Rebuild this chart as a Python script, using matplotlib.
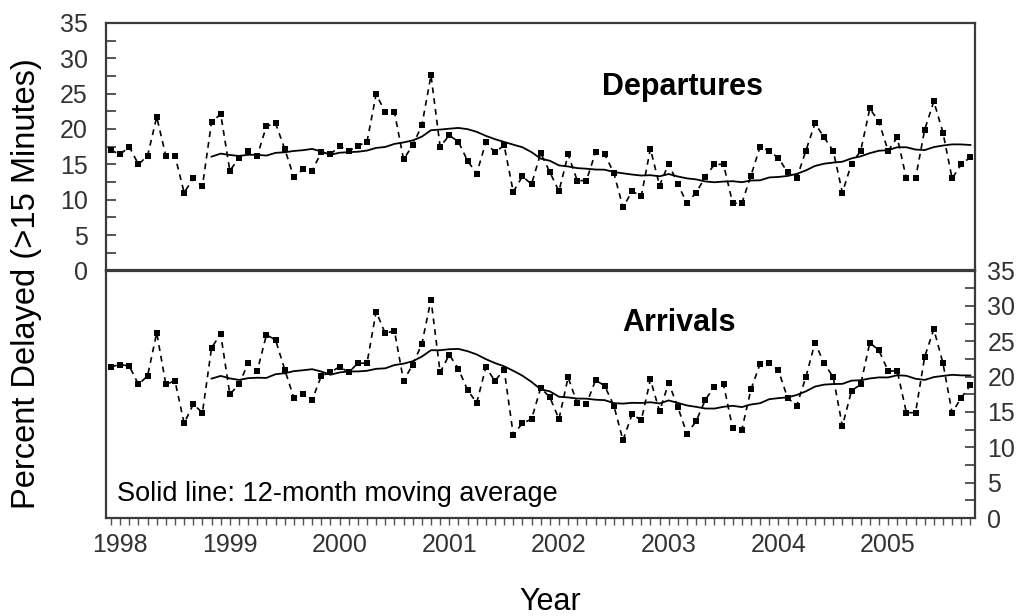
import matplotlib
matplotlib.use('Agg')
import matplotlib.pyplot as plt
from matplotlib.ticker import MultipleLocator
import pandas as pd

plt.rcParams['font.family'] = ['Liberation Sans', 'DejaVu Sans']

# monthly share of flights delayed more than 15 minutes, Jan 1998 onward
departures = [
    17.0, 16.4, 17.5, 15.0, 16.2, 21.7, 16.2, 16.2, 11.0, 13.0, 11.9, 21.0,
    22.1, 14.1, 15.9, 16.9, 16.2, 20.4, 20.8, 17.2, 13.2, 14.3, 14.1, 16.7,
    16.4, 17.6, 16.9, 17.6, 18.2, 24.9, 22.4, 22.4, 15.7, 17.7, 20.5, 27.6,
    17.5, 19.1, 18.2, 15.5, 13.7, 18.1, 16.7, 17.7, 11.1, 13.3, 12.2, 16.6,
    13.9, 11.2, 16.4, 12.7, 12.7, 16.7, 16.4, 13.8, 8.9, 11.2, 10.5, 17.2,
    12.0, 15.1, 12.2, 9.5, 11.0, 13.2, 15.0, 15.0, 9.5, 9.5, 13.4, 17.5,
    16.9, 15.9, 13.9, 13.0, 16.9, 20.8, 18.8, 16.9, 11.0, 15.1, 16.9, 22.9,
    21.0, 16.9, 18.8, 13.0, 13.0, 19.9, 23.9, 19.5, 13.0, 15.0, 16.0,
]
arrivals = [
    21.4, 21.7, 21.5, 18.9, 20.1, 26.2, 18.9, 19.4, 13.4, 16.1, 14.9, 24.1,
    26.0, 17.5, 18.9, 21.9, 20.8, 25.9, 25.2, 21.0, 17.0, 17.6, 16.7, 20.1,
    20.6, 21.4, 20.6, 21.9, 21.9, 29.2, 26.1, 26.5, 19.4, 21.7, 24.6, 30.9,
    20.6, 23.1, 21.1, 18.1, 16.3, 21.3, 19.4, 21.0, 11.8, 13.4, 14.0, 18.4,
    17.1, 14.0, 19.9, 16.2, 16.1, 19.5, 18.7, 15.9, 11.0, 14.7, 13.8, 19.6,
    15.1, 19.1, 15.7, 11.9, 13.7, 16.7, 18.6, 18.9, 12.7, 12.5, 18.2, 21.8,
    21.9, 20.9, 17.0, 15.9, 19.9, 24.8, 21.9, 19.9, 13.0, 18.0, 18.9, 24.8,
    23.7, 20.8, 20.8, 14.9, 14.9, 22.8, 26.7, 21.9, 14.9, 17.0, 18.8,
]
years = ['1998', '1999', '2000', '2001', '2002', '2003', '2004', '2005']

months = list(range(len(departures)))
dep_avg = pd.Series(departures).rolling(12).mean()
arr_avg = pd.Series(arrivals).rolling(12).mean()

edge = '#3a3a3a'
tick_color = '#333333'

fig = plt.figure(figsize=(10.16, 6.16), dpi=100)
ax_top = fig.add_axes([0.1043, 0.561, 0.8553, 0.4018])
ax_bot = fig.add_axes([0.1043, 0.159, 0.8553, 0.4018], sharex=ax_top)

for ax, values, avg in [(ax_top, departures, dep_avg), (ax_bot, arrivals, arr_avg)]:
    ax.plot(months, values, color='black', lw=1.2, linestyle=(0, (3.5, 3)),
            marker='s', markersize=3.8, markeredgewidth=0)
    ax.plot(months, avg, color='black', lw=1.3)
    ax.set_ylim(0, 35)
    ax.set_xlim(-0.55, 94.5)
    ax.yaxis.set_major_locator(MultipleLocator(5))
    ax.yaxis.set_minor_locator(MultipleLocator(2.5))
    for s in ax.spines.values():
        s.set_color(edge)
        s.set_linewidth(1.6)

# top panel: values on the left, ticks pointing in
ax_top.tick_params(axis='y', which='both', direction='in', length=7, width=1.2,
                   color=edge, labelsize=18, labelcolor=tick_color, pad=13)
ax_top.tick_params(axis='x', which='both', bottom=False, labelbottom=False)
ax_top.text(0.664, 0.709, 'Departures', transform=ax_top.transAxes,
            ha='center', va='baseline', fontsize=22, fontweight='bold')

# bottom panel: values on the right
ax_bot.yaxis.tick_right()
ax_bot.tick_params(axis='y', which='both', direction='in', length=7, width=1.2,
                   color=edge, labelsize=18, labelcolor=tick_color, pad=9,
                   left=False, right=True)
ax_bot.set_xticks([12 * k + 1 for k in range(len(years))])
ax_bot.set_xticklabels(years)
ax_bot.xaxis.set_minor_locator(MultipleLocator(1))
ax_bot.tick_params(axis='x', which='both', direction='out', length=5, width=1,
                   color='#555555', labelsize=18, labelcolor=tick_color, pad=6)
ax_bot.text(0.659, 0.756, 'Arrivals', transform=ax_bot.transAxes,
            ha='center', va='baseline', fontsize=22, fontweight='bold')
ax_bot.text(0.0127, 0.069, 'Solid line: 12-month moving average',
            transform=ax_bot.transAxes, ha='left', va='baseline', fontsize=19.5)

fig.text(0.026, 1 - 284 / 616, 'Percent Delayed (>15 Minutes)', rotation=90,
         ha='center', va='center', fontsize=23.5)
fig.text(550 / 1016, 1 - 610 / 616, 'Year', ha='center', va='baseline', fontsize=22)

fig.savefig('out.png', dpi=100)
